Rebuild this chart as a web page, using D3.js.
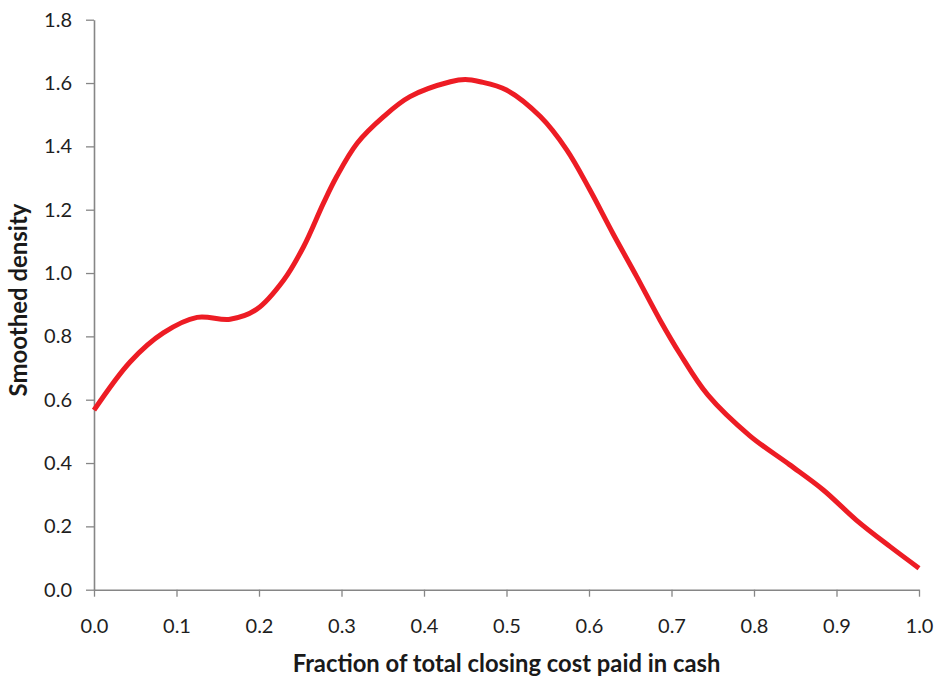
<!DOCTYPE html>
<html>
<head>
<meta charset="utf-8">
<script src="https://cdn.jsdelivr.net/npm/d3@7"></script>
<style>
  html, body { margin: 0; padding: 0; background: #fff; }
  svg { display: block; }
</style>
</head>
<body>
<svg id="chart" width="936" height="677"></svg>
<script>
// Data
const xValues = [0.000, 0.044, 0.084, 0.125, 0.165, 0.197, 0.230, 0.254, 0.278, 0.294, 0.319, 0.351, 0.383, 0.432, 0.450, 0.468, 0.500, 0.541, 0.573, 0.601, 0.629, 0.658, 0.686, 0.710, 0.744, 0.795, 0.843, 0.884, 0.924, 0.965, 1.000];
const densityValues = [0.567, 0.720, 0.811, 0.860, 0.854, 0.885, 0.978, 1.083, 1.220, 1.304, 1.410, 1.494, 1.557, 1.604, 1.611, 1.604, 1.578, 1.494, 1.389, 1.263, 1.125, 0.988, 0.852, 0.746, 0.615, 0.486, 0.395, 0.315, 0.220, 0.136, 0.068];
const xTicks = [0, 0.1, 0.2, 0.3, 0.4, 0.5, 0.6, 0.7, 0.8, 0.9, 1.0];
const yTicks = [0, 0.2, 0.4, 0.6, 0.8, 1.0, 1.2, 1.4, 1.6, 1.8];
const xTitle = "Fraction of total closing cost paid in cash";
const yTitle = "Smoothed density";

const svg = d3.select("#chart");
const margin = { left: 94, right: 17, top: 19.7, bottom: 87.3 };
const W = 936, H = 677;
const x = d3.scaleLinear().domain([0, 1]).range([margin.left, W - margin.right]);
const y = d3.scaleLinear().domain([0, 1.8]).range([H - margin.bottom, margin.top]);

const font = "Lato, 'Open Sans', sans-serif";
const axisColor = "#868686";

const gx = svg.append("g")
  .attr("transform", `translate(0,${y(0)})`)
  .call(d3.axisBottom(x).tickValues(xTicks).tickFormat(d3.format(".1f")).tickSize(7).tickPadding(22).tickSizeOuter(0));
const gy = svg.append("g")
  .attr("transform", `translate(${x(0)},0)`)
  .call(d3.axisLeft(y).tickValues(yTicks).tickFormat(d3.format(".1f")).tickSize(8).tickPadding(14).tickSizeOuter(0));

[gx, gy].forEach(g => {
  g.select(".domain").attr("stroke", axisColor).attr("stroke-width", 1.6);
  g.selectAll(".tick line").attr("stroke", axisColor).attr("stroke-width", 1.3);
  g.selectAll(".tick text").attr("fill", "#1e1e1e").style("font-family", font).style("font-size", "20px");
});

// density line
const pts = xValues.map((v, i) => [v, densityValues[i]]);
svg.append("path")
  .datum(pts)
  .attr("fill", "none")
  .attr("stroke", "#ED1C24")
  .attr("stroke-width", 5)
  .attr("stroke-linejoin", "round")
  .attr("d", d3.line().x(d => x(d[0])).y(d => y(d[1])).curve(d3.curveCatmullRom.alpha(0.5)));

function fit(sel, target) {
  const w = sel.node().getComputedTextLength();
  const fs = parseFloat(sel.style("font-size"));
  sel.style("font-size", (fs * target / w) + "px");
}

const xt = svg.append("text")
  .attr("x", (x(0) + x(1)) / 2)
  .attr("y", 671.5)
  .attr("text-anchor", "middle")
  .style("font-family", font)
  .style("font-weight", "bold")
  .style("font-size", "22px")
  .attr("fill", "#1a1a1a")
  .text(xTitle);
fit(xt, 428);

const yt = svg.append("text")
  .attr("transform", `translate(27,${300}) rotate(-90)`)
  .attr("text-anchor", "middle")
  .style("font-family", font)
  .style("font-weight", "bold")
  .style("font-size", "20px")
  .attr("fill", "#1a1a1a")
  .text(yTitle);
fit(yt, 193);
</script>
</body>
</html>
